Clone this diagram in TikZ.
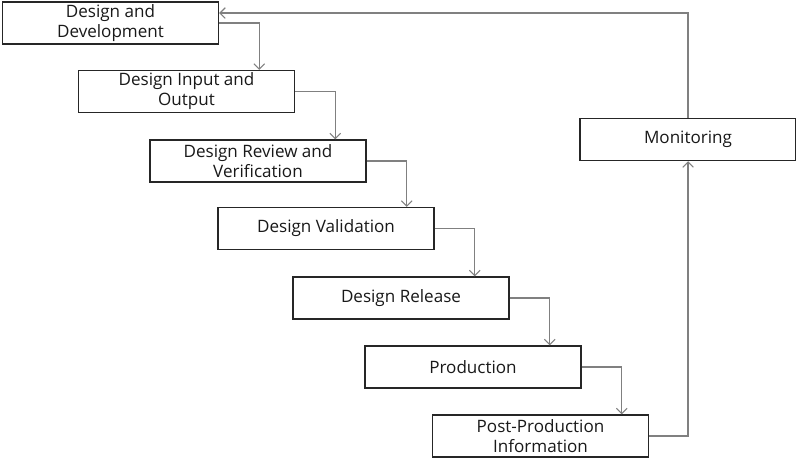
\documentclass[tikz,border=0pt]{standalone}
\usepackage{fontspec}
\setmainfont{Open Sans}
\usetikzlibrary{arrows.meta,calc}
\begin{document}
\begin{tikzpicture}[x=0.75pt,y=-0.75pt,
  box/.style={draw=black!85,line width=1.1pt,fill=white,minimum width=162pt,minimum height=31.5pt,
    inner sep=0pt,align=center,font=\fontsize{12.8}{15}\selectfont,text=black!90},
  conn/.style={draw=black!50,line width=0.8pt,-{Straight Barb[length=4pt,width=8pt]}}]
\useasboundingbox (0,0) rectangle (796,462);
\node[box] (b1) at (110.5,23) {Design and\\Development};
\node[box] (b2) at (186.5,91.5) {Design Input and\\Output};
\node[box] (b3) at (258,161) {Design Review and\\Verification};
\node[box] (b4) at (326,228.5) {Design Validation};
\node[box] (b5) at (401,298) {Design Release};
\node[box] (b6) at (473,367) {Production};
\node[box] (b7) at (540.5,436) {Post-Production\\Information};
\node[box] (mon) at (688,139.5) {Monitoring};
\foreach \a/\b in {b1/b2,b2/b3,b3/b4,b4/b5,b5/b6,b6/b7}{
  \path (\a.east) ++(40,0) coordinate (t\a);
  \draw[conn] (\a.east) -| (t\a |- \b.north);
}
\draw[conn] (b7.east) -| (mon.south);
\coordinate (back) at (688,13);
\draw[conn] (mon.north) -- (back) -- (b1.east |- back);
\end{tikzpicture}
\end{document}
